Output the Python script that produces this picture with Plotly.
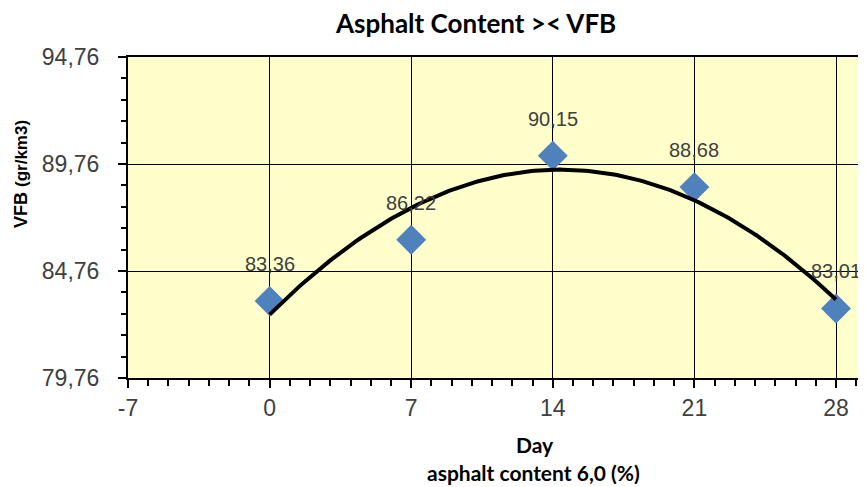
import numpy as np
import plotly.graph_objects as go

days = [0, 7, 14, 21, 28]
vfb = [83.36, 86.22, 90.15, 88.68, 83.01]
y_ticks = [79.76, 84.76, 89.76, 94.76]
x_ticks = [-7, 0, 7, 14, 21, 28]

W, H = 866, 487
OFF = 8  # page body margin
L, R, T, B = 120, 0, 49, 117
pw, ph = W - L - R, H - T - B
x_max = -7 + pw * 35 / 708.0

def px(xs):
    return (xs - OFF - L) / pw

def py(ys):
    return (H - B - (ys - OFF)) / ph

coef = np.polyfit(days, vfb, 2)
xt = np.linspace(min(days), max(days), 200)
yt = np.polyval(coef, xt)

fig = go.Figure()
fig.add_trace(go.Scatter(
    x=days, y=vfb, mode="markers",
    marker=dict(symbol="diamond", size=23, color="#4F81BD", line=dict(width=0)),
    showlegend=False, hoverinfo="skip"))
fig.add_trace(go.Scatter(
    x=xt, y=yt, mode="lines", line=dict(color="black", width=4),
    showlegend=False, hoverinfo="skip"))

annotations = []
for d, v in zip(days, vfb):
    annotations.append(dict(
        x=d, y=v, xref="x", yref="y", text=f"{v:.2f}".replace(".", ","),
        showarrow=False, yshift=37, xanchor="center", yanchor="middle",
        font=dict(family="Liberation Sans", size=20, color="#404040")))

annotations.append(dict(
    x=px(475), y=py(23), xref="paper", yref="paper",
    text="<b>Asphalt Content &gt;&lt; VFB</b>", showarrow=False,
    xanchor="center", yanchor="middle",
    font=dict(family="Lato", size=26, color="black")))
annotations.append(dict(
    x=px(535), y=py(444), xref="paper", yref="paper",
    text="<b>Day</b>", showarrow=False, xanchor="center", yanchor="middle",
    font=dict(family="Lato", size=21, color="black")))
annotations.append(dict(
    x=px(533), y=py(472), xref="paper", yref="paper",
    text="<b>asphalt content 6,0 (%)</b>", showarrow=False,
    xanchor="center", yanchor="middle",
    font=dict(family="Lato", size=21, color="black")))
annotations.append(dict(
    x=px(21), y=py(174), xref="paper", yref="paper",
    text="<b>VFB <span style='font-size:17px'>(gr/km3)</span></b>",
    showarrow=False, textangle=-90, xanchor="center", yanchor="middle",
    font=dict(family="Liberation Sans", size=18, color="black")))

fig.update_layout(
    width=W, height=H,
    margin=dict(l=L, r=R, t=T, b=B, pad=0),
    paper_bgcolor="white", plot_bgcolor="#FFFFCC",
    separators=",.",
    annotations=annotations,
    xaxis=dict(
        range=[-7, x_max], tickmode="array", tickvals=x_ticks,
        ticktext=[str(t) for t in x_ticks],
        showgrid=True, gridcolor="black", gridwidth=1,
        showline=True, linecolor="black", linewidth=2, mirror=True,
        ticks="outside", ticklen=8, tickcolor="black", tickwidth=1.5,
        minor=dict(dtick=1, tick0=-7, ticks="outside", ticklen=6, tickcolor="black", tickwidth=1.5, showgrid=False),
        zeroline=False,
        tickfont=dict(family="Liberation Sans", size=23, color="#404040"),
    ),
    yaxis=dict(
        range=[79.76, 94.76], tickmode="array", tickvals=y_ticks,
        ticktext=[f"{t:.2f}".replace(".", ",") for t in y_ticks],
        showgrid=True, gridcolor="black", gridwidth=1,
        showline=True, linecolor="black", linewidth=2,
        ticks="outside", ticklen=8, tickcolor="black", tickwidth=1.5,
        minor=dict(dtick=1, tick0=79.76, ticks="outside", ticklen=5, tickcolor="black", tickwidth=1.5, showgrid=False),
        zeroline=False, ticklabelstandoff=14,
        tickfont=dict(family="Liberation Sans", size=23, color="#404040"),
    ),
)

fig.write_html("out.html")
